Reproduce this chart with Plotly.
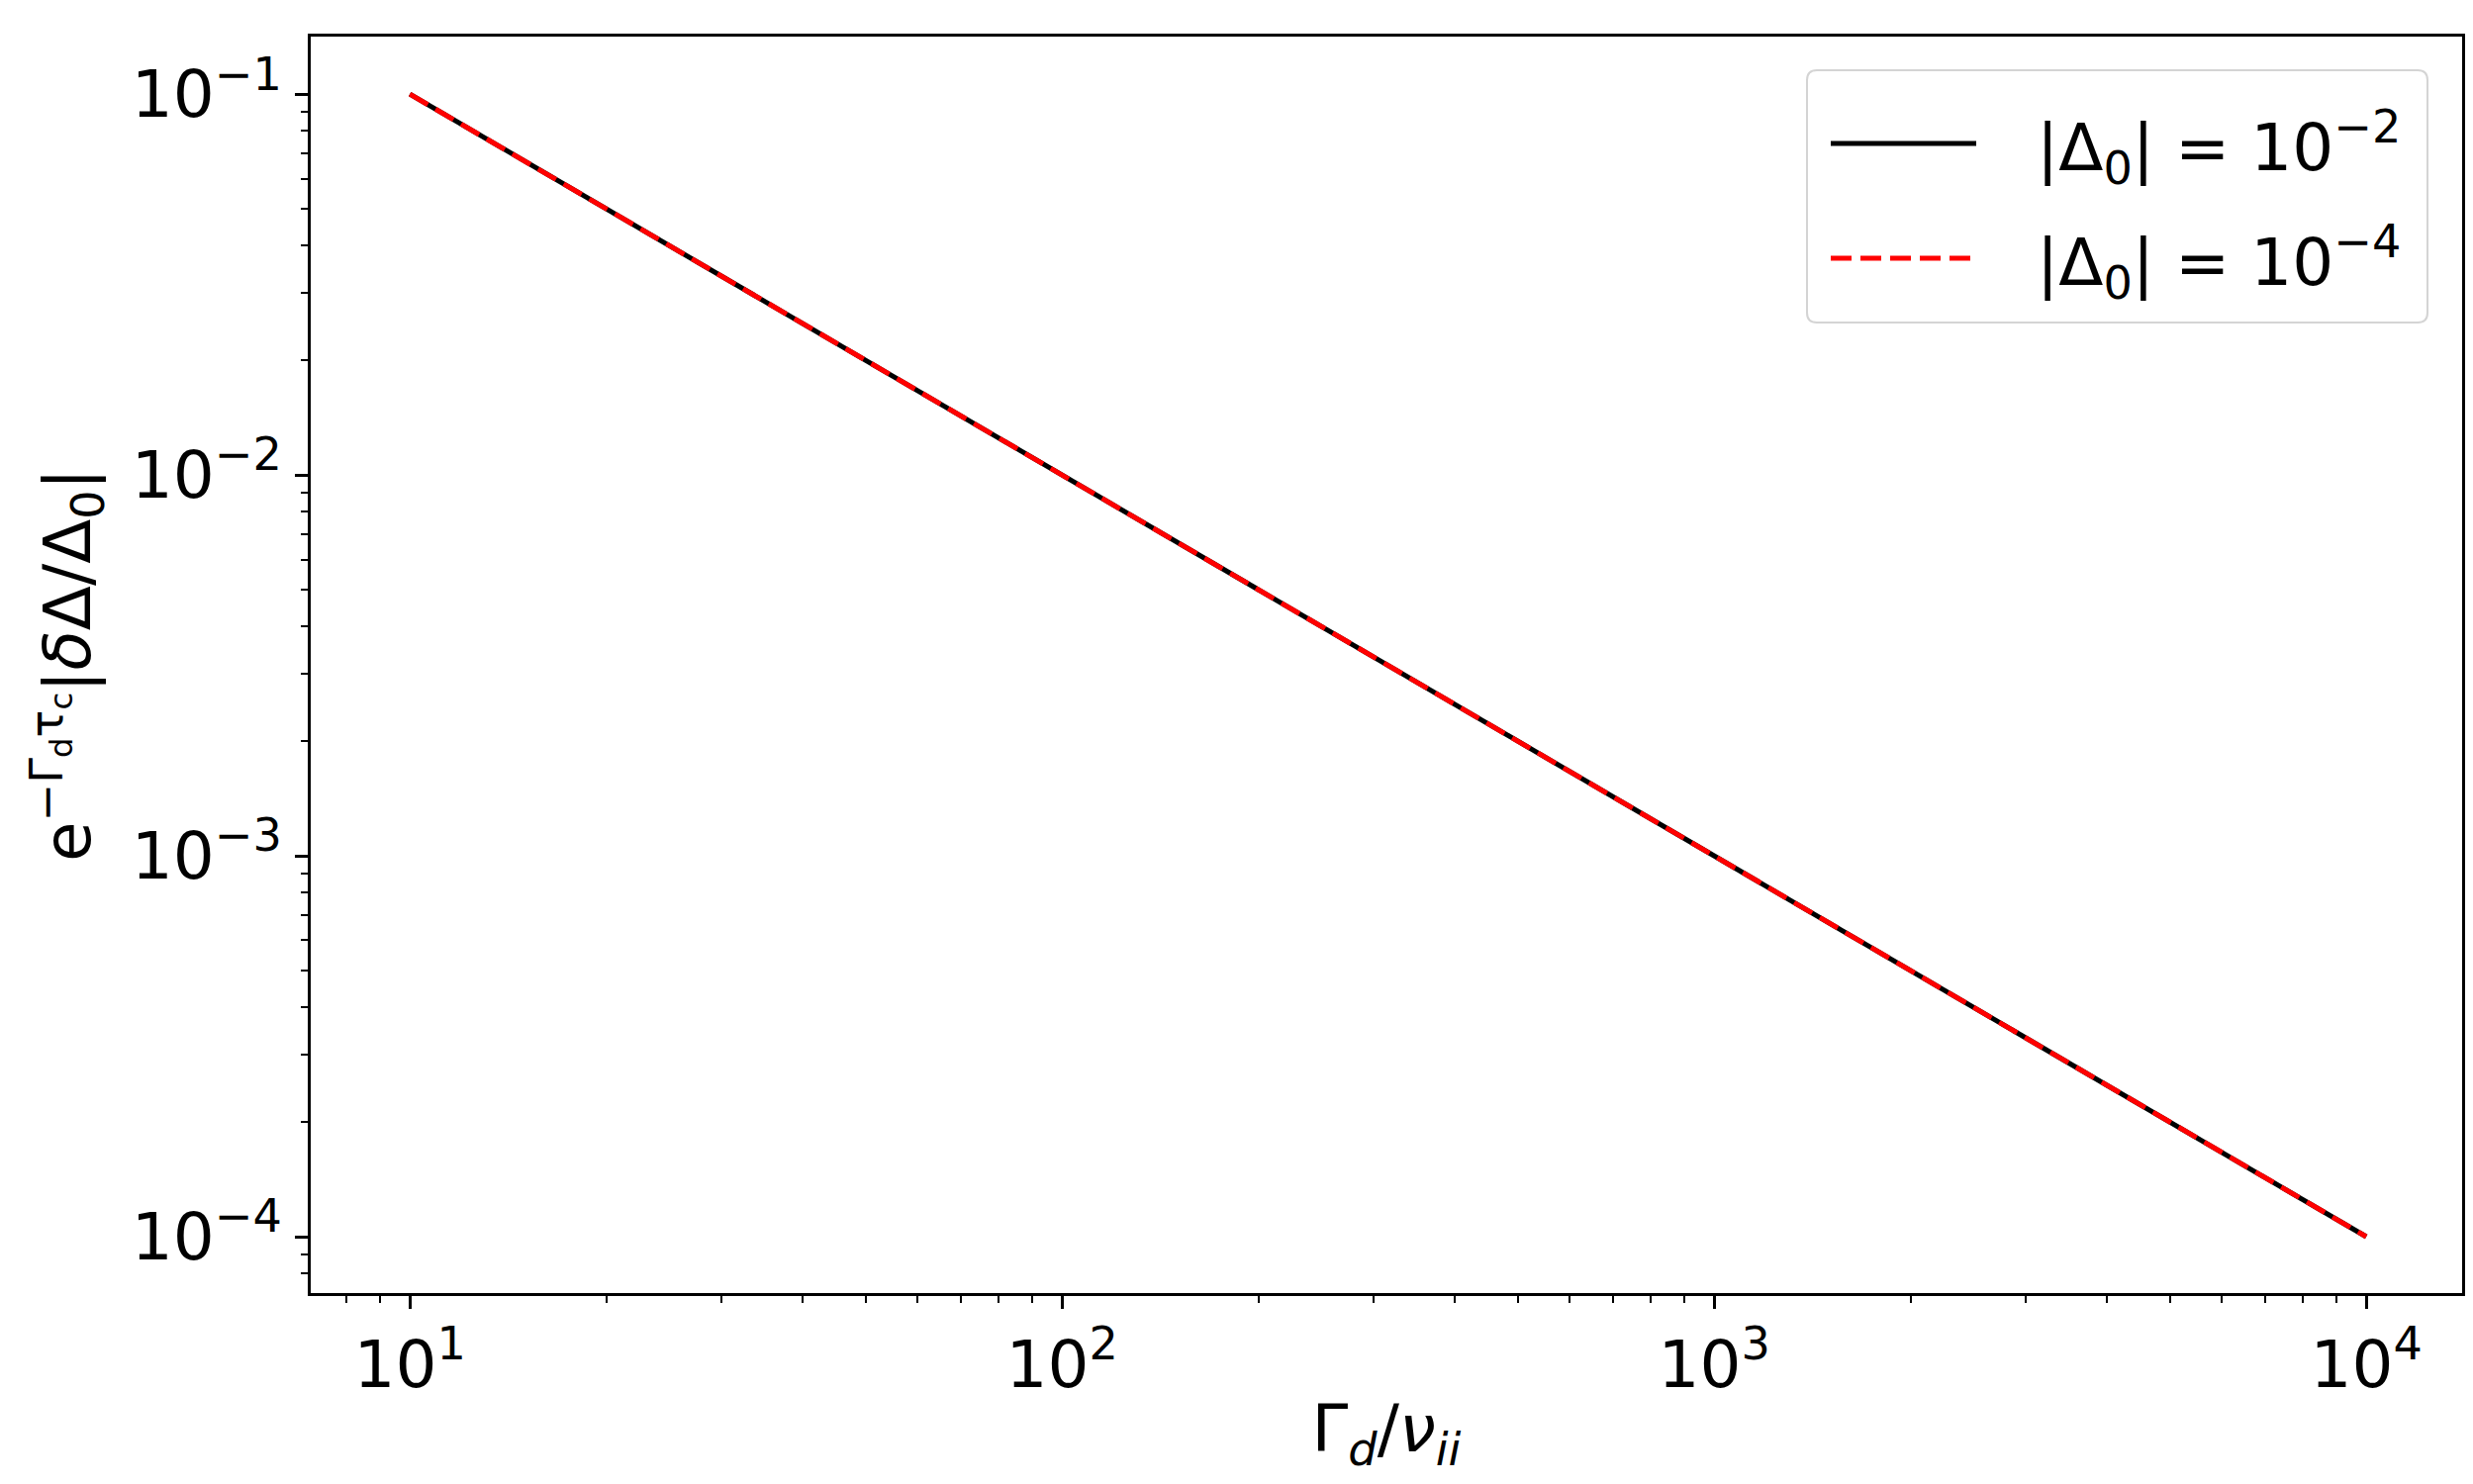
import plotly.graph_objects as go

# data (both curves coincide)
gamma_ratio = [10, 100, 1000, 10000]
amp_d2 = [1e-1, 1e-2, 1e-3, 1e-4]
amp_d4 = [1e-1, 1e-2, 1e-3, 1e-4]

series_names = ["|Δ<sub>0</sub>| = 10<sup>−2</sup>", "|Δ<sub>0</sub>| = 10<sup>−4</sup>"]
x_tickvals = [10, 100, 1000, 10000]
x_ticktext = ["10<sup>1</sup>", "10<sup>2</sup>", "10<sup>3</sup>", "10<sup>4</sup>"]
y_tickvals = [1e-4, 1e-3, 1e-2, 1e-1]
y_ticktext = ["10<sup>−4</sup>", "10<sup>−3</sup>", "10<sup>−2</sup>", "10<sup>−1</sup>"]

W, H = 2499, 1500
L, R, T, B = 306, 2480, 29, 1299
FONT = "DejaVu Sans"
FS = 66


def px_x(p):
    return (p - L) / (R - L)


def px_y(p):
    return (B - p) / (B - T)


# minor tick positions (2..9 per decade)
x_minor = [m * 10 ** e for e in range(0, 5) for m in range(2, 10)]
y_minor = [m * 10.0 ** e for e in range(-5, 0) for m in range(2, 10)]

fig = go.Figure()
fig.add_trace(go.Scatter(
    x=gamma_ratio, y=amp_d2, mode="lines", name=series_names[0],
    line=dict(color="black", width=5), showlegend=False,
))
fig.add_trace(go.Scatter(
    x=gamma_ratio, y=amp_d4, mode="lines", name=series_names[1],
    line=dict(color="red", width=5, dash="21px,9px"), showlegend=False,
))

axis_common = dict(
    showline=True, linecolor="black", linewidth=3, mirror=True,
    ticks="outside", ticklen=13, tickwidth=3, tickcolor="black",
    showgrid=False, zeroline=False, automargin=False,
    tickfont=dict(family=FONT, size=FS, color="black"),
)

fig.update_xaxes(
    type="log", range=[0.848, 4.147],
    tickvals=x_tickvals, ticktext=x_ticktext,
    minor=dict(tickvals=x_minor, ticks="outside", ticklen=7, tickwidth=2, tickcolor="black", showgrid=False),
    title=dict(text="Γ<sub><i>d</i></sub>/<i>ν</i><sub><i>ii</i></sub>",
               font=dict(family=FONT, size=FS, color="black"), standoff=4),
    **axis_common,
)
fig.update_yaxes(
    type="log", range=[-4.148, -0.849],
    tickvals=y_tickvals, ticktext=y_ticktext,
    minor=dict(tickvals=y_minor, ticks="outside", ticklen=7, tickwidth=2, tickcolor="black", showgrid=False),
    title=dict(text="e<sup>−Γ<sub>d</sub>τ<sub>c</sub></sup>|<i>δ</i>Δ/Δ<sub>0</sub>|",
               font=dict(family=FONT, size=FS, color="black"), standoff=20),
    **axis_common,
)

# matplotlib-style legend box (top right)
lx0, lx1, ly0, ly1 = 1818, 2445, 63, 318
rad = 10
rx = rad / (R - L)
ry = rad / (B - T)
x0, x1, y0, y1 = px_x(lx0), px_x(lx1), px_y(ly1), px_y(ly0)
path = (
    f"M {x0 + rx},{y0} L {x1 - rx},{y0} Q {x1},{y0} {x1},{y0 + ry} "
    f"L {x1},{y1 - ry} Q {x1},{y1} {x1 - rx},{y1} "
    f"L {x0 + rx},{y1} Q {x0},{y1} {x0},{y1 - ry} "
    f"L {x0},{y0 + ry} Q {x0},{y0} {x0 + rx},{y0} Z"
)
fig.add_shape(type="path", path=path, xref="paper", yref="paper",
              line=dict(color="#d4d4d4", width=2), fillcolor="rgba(255,255,255,0.8)", layer="above")

rows = [137, 253]
styles = [dict(color="black", width=5), dict(color="red", width=5, dash="21px,9px")]
for row, style, name in zip(rows, styles, series_names):
    fig.add_shape(type="line", xref="paper", yref="paper",
                  x0=px_x(1842), x1=px_x(1989), y0=px_y(row), y1=px_y(row),
                  line=style, layer="above")
    fig.add_annotation(xref="paper", yref="paper", x=px_x(2048), y=px_y(row + 4),
                       xanchor="left", yanchor="middle", showarrow=False,
                       text=name, font=dict(family=FONT, size=FS, color="black"))

fig.update_layout(
    width=W, height=H,
    margin=dict(l=L, r=W - R, t=T, b=H - B),
    plot_bgcolor="white", paper_bgcolor="white",
    font=dict(family=FONT, size=FS, color="black"),
    showlegend=False,
)

fig.write_html("out.html")
